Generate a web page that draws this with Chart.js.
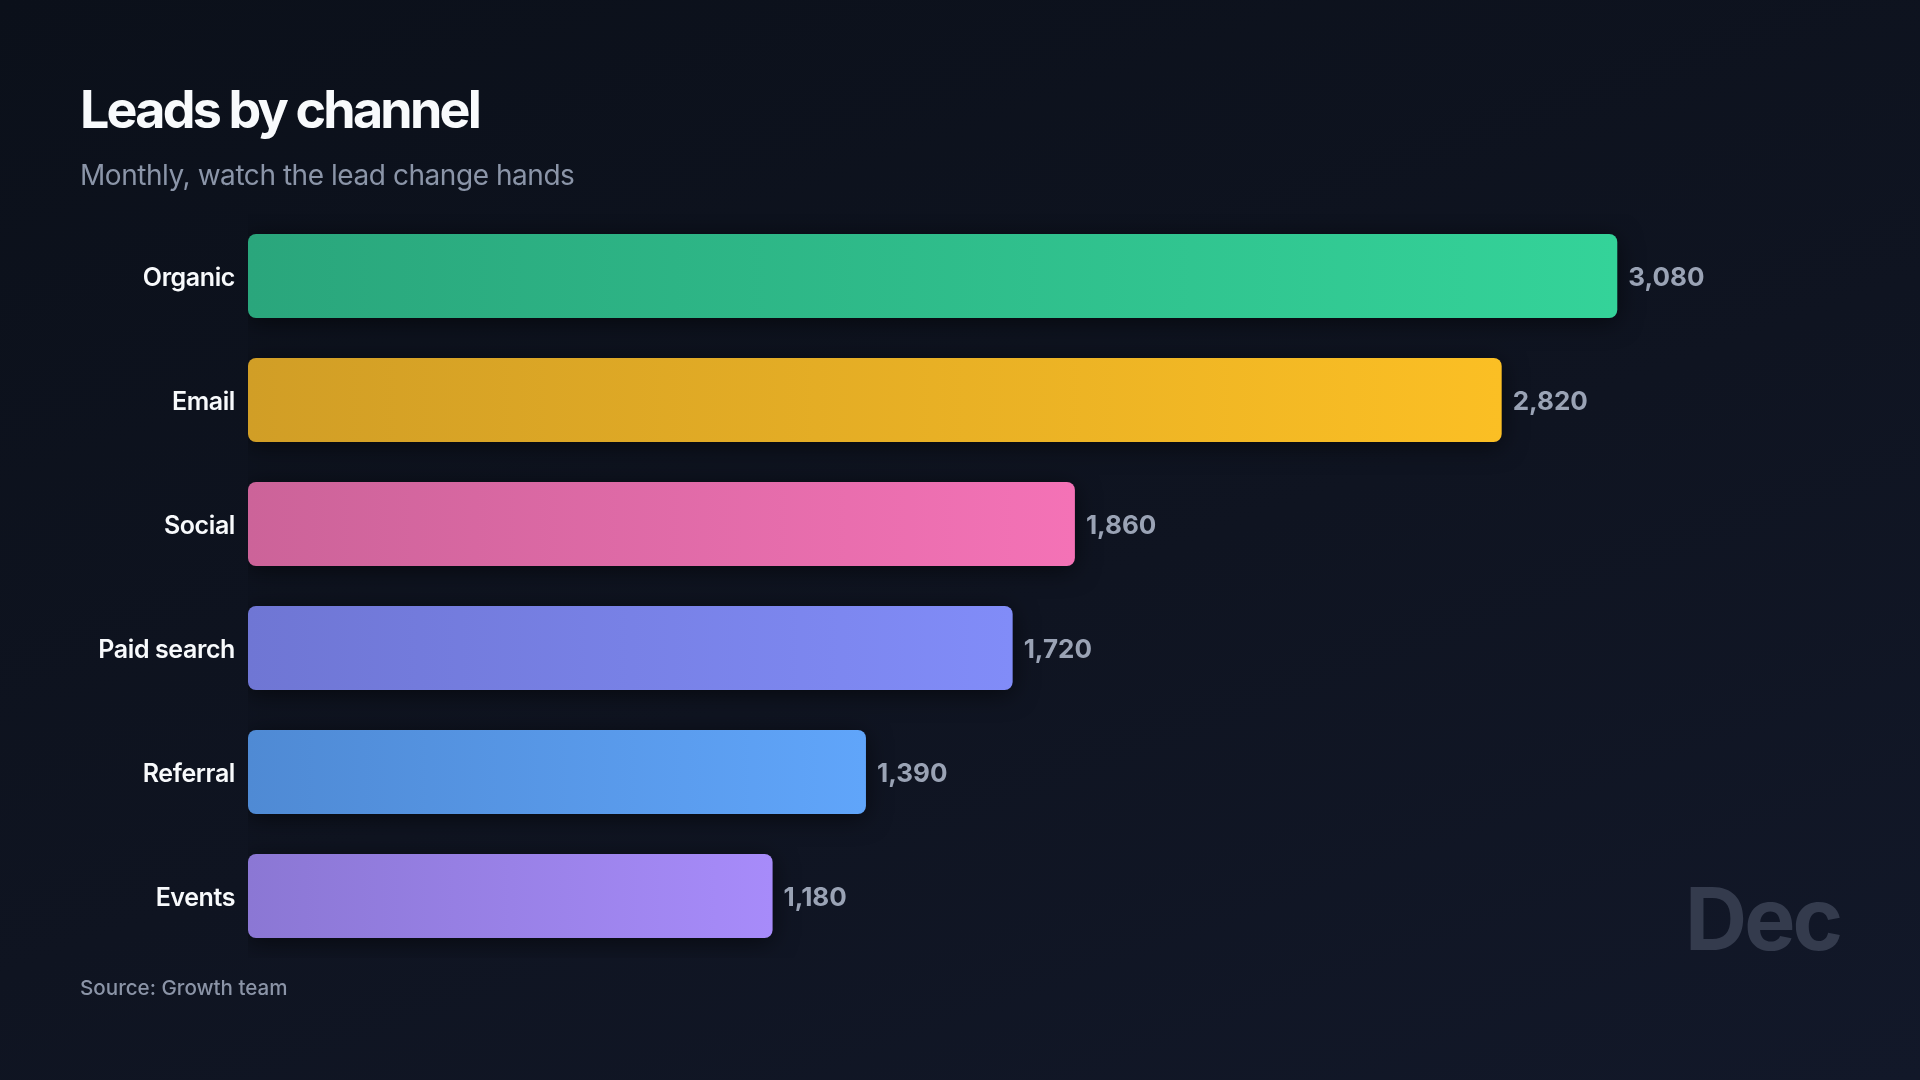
<!DOCTYPE html>
<html>
<head>
<meta charset="utf-8">
<script src="https://cdn.jsdelivr.net/npm/chart.js@4.4.1/dist/chart.umd.min.js"></script>
<style>
  html, body { margin: 0; padding: 0; }
  body {
    width: 1920px; height: 1080px; overflow: hidden; position: relative;
    background: linear-gradient(160deg, #0b101a 0%, #0f1421 55%, #121829 100%);
    font-family: Inter, "Noto Sans", sans-serif;
  }
  #chartWrap { position: absolute; left: 0; top: 0; width: 1920px; height: 1080px; }
  .title { position: absolute; left: 80px; top: 84px; font-size: 52px; line-height: 52px; font-weight: 700; color: #f8fafc; letter-spacing: -2.8px; }
  .subtitle { position: absolute; left: 80px; top: 161px; font-size: 28px; line-height: 28px; font-weight: 400; color: #8b95a8; letter-spacing: -0.45px; }
  .source { position: absolute; left: 80px; top: 978px; font-size: 20.6px; line-height: 20px; font-weight: 500; color: #8b94a7; }
  .stamp { position: absolute; right: 80px; top: 876px; font-size: 86px; line-height: 86px; font-weight: 700; color: #343b4d; letter-spacing: -3px; }
</style>
</head>
<body>
<div id="chartWrap"><canvas id="leadsChart" width="1920" height="1080"></canvas></div>
<div class="title">Leads by channel</div>
<div class="subtitle">Monthly, watch the lead change hands</div>
<div class="source">Source: Growth team</div>
<div class="stamp">Dec</div>
<script>
// Data for December
const channels = ['Organic', 'Email', 'Social', 'Paid search', 'Referral', 'Events'];
const leads = [3080, 2820, 1860, 1720, 1390, 1180];
const colorsEnd = ['#34d399', '#fbbf24', '#f472b6', '#818cf8', '#60a5fa', '#a78bfa'];
const colorsStart = ['#2aa67c', '#d19e26', '#cc6399', '#6f76d4', '#4f8ad4', '#8b77d4'];

// Horizontal gradient from the bar base to its end
function barGradient(context) {
    const chart = context.chart;
    if (!chart.chartArea) return colorsEnd[context.dataIndex];
    const xScale = chart.scales.x;
    const x0 = xScale.getPixelForValue(0);
    const x1 = xScale.getPixelForValue(leads[context.dataIndex]);
    const g = chart.ctx.createLinearGradient(x0, 0, x1, 0);
    g.addColorStop(0, colorsStart[context.dataIndex]);
    g.addColorStop(1, colorsEnd[context.dataIndex]);
    return g;
}

// Soft glow behind the bars
const glowPlugin = {
    id: 'glow',
    beforeDatasetsDraw(chart) {
        const ctx = chart.ctx;
        ctx.save();
        ctx.shadowColor = 'rgba(0, 0, 0, 0.55)';
        ctx.shadowBlur = 24;
        ctx.shadowOffsetY = 4;
    },
    afterDatasetsDraw(chart) {
        chart.ctx.restore();
    }
};

// Category names left of the bars and values at their ends
const barLabels = {
    id: 'barLabels',
    afterDatasetsDraw(chart) {
        const ctx = chart.ctx;
        const meta = chart.getDatasetMeta(0);
        const left = chart.scales.x.getPixelForValue(0);
        ctx.save();
        ctx.textBaseline = 'middle';
        meta.data.forEach((bar, i) => {
            ctx.font = '600 25px Inter';
            ctx.fillStyle = '#f8fafc';
            ctx.textAlign = 'right';
            ctx.letterSpacing = '-0.4px';
            ctx.fillText(channels[i], left - 13, bar.y + 2);
            ctx.font = '700 26px Inter';
            ctx.fillStyle = '#9aa3b5';
            ctx.textAlign = 'left';
            ctx.letterSpacing = '0px';
            ctx.fillText(leads[i].toLocaleString('en-US'), bar.x + 11, bar.y + 2);
        });
        ctx.restore();
    }
};

const ctx = document.getElementById('leadsChart').getContext('2d');
new Chart(ctx, {
    type: 'bar',
    data: {
        labels: channels,
        datasets: [{
            data: leads,
            backgroundColor: barGradient,
            borderRadius: 8,
            borderSkipped: false,
            barPercentage: 0.677,
            categoryPercentage: 1
        }]
    },
    options: {
        indexAxis: 'y',
        responsive: false,
        animation: false,
        layout: { padding: { top: 214, bottom: 122, left: 248, right: 116 } },
        plugins: {
            legend: { display: false },
            tooltip: { enabled: false }
        },
        scales: {
            x: {
                display: false,
                min: 0,
                max: 3500
            },
            y: {
                display: false
            }
        }
    },
    plugins: [glowPlugin, barLabels]
});
</script>
</body>
</html>
